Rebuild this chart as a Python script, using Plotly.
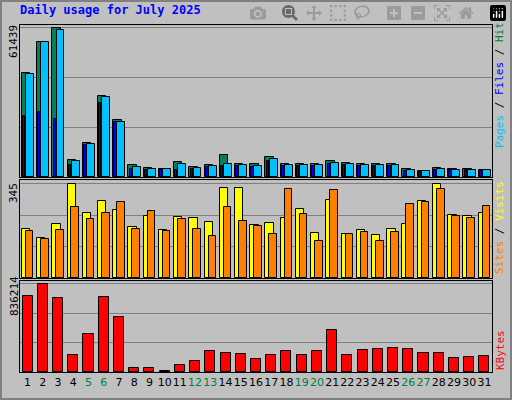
import plotly.graph_objects as go

days = list(range(1, 32))
weekend = [5, 6, 12, 13, 19, 20, 26, 27]
hits = [43000, 55700, 61439, 7000, 13900, 33600, 23300, 4900, 3700, 3300, 6100, 4100, 4900, 9000, 5300,
        5300, 8200, 5300, 5300, 5300, 6500, 5700, 5300, 5300, 5300, 3300, 2500, 3700, 3300, 3300, 2900]
pages = [42500, 55500, 60500, 6500, 13500, 33000, 22800, 4300, 3500, 3100, 5300, 3800, 4500, 5300, 4900,
         4700, 7600, 5000, 5000, 5000, 5800, 5300, 5000, 5000, 5000, 2900, 2300, 3400, 3000, 3000, 2700]
files = [25000, 26600, 24000, 4900, 13000, 30700, 22500, 3300, 3000, 2800, 3000, 3300, 4000, 4500, 4500,
         4300, 6800, 4500, 4500, 4500, 5200, 4800, 4500, 4500, 4500, 2500, 2000, 3000, 2700, 2700, 2400]
visits = [178, 145, 197, 345, 237, 282, 249, 185, 226, 174, 222, 219, 204, 330, 330, 193, 200, 219, 252, 163,
          286, 160, 174, 156, 178, 197, 282, 345, 230, 226, 237]
sites = [171, 141, 174, 260, 215, 237, 278, 178, 245, 171, 215, 178, 152, 260, 208, 189, 160, 326, 234, 134,
         323, 160, 167, 134, 167, 271, 278, 326, 226, 219, 263]
kbytes = [721000, 836214, 701000, 163000, 355000, 711000, 519000, 38000, 38000, 10000, 67000, 106000, 202000,
          183000, 173000, 125000, 163000, 202000, 163000, 202000, 394000, 163000, 211000, 221000, 230000,
          221000, 183000, 183000, 134000, 144000, 154000]
max_hits, max_sites, max_kb = 61439, 345, 836214
title = "Daily usage for July 2025"

line = dict(color="black", width=1)
fig = go.Figure()
def bar(y, color, off, w, ax):
    fig.add_trace(go.Bar(x=days, y=y, offset=off, width=w, marker=dict(color=color, line=line),
                         xaxis="x" + ax, yaxis="y" + ax, showlegend=False, hoverinfo="skip"))
bar(hits, "#00805C", -0.38, 0.55, "")
bar(files, "#0000FF", -0.3, 0.14, "")
bar(pages, "#00C0FF", -0.1, 0.52, "")
bar(visits, "#FFFF00", -0.38, 0.55, "2")
bar(sites, "#FF8000", -0.12, 0.5, "2")
bar(kbytes, "#FF0000", -0.33, 0.66, "3")

dom = [20 / 512, 492 / 512]
ticktext = [f"<span style='color:#008040'>{d}</span>" if d in weekend else str(d) for d in days]
xcommon = dict(range=[0.5, 31.5], domain=dom, showgrid=False, zeroline=False, showline=True,
               linecolor="black", mirror=True, ticks="")
ycommon = dict(showgrid=True, gridcolor="#808080", gridwidth=1, zeroline=False, showline=True,
               linecolor="black", mirror=True, showticklabels=False, ticks="")
fig.update_layout(
    width=512, height=400, margin=dict(l=0, r=0, t=0, b=0),
    paper_bgcolor="#C0C0C0", plot_bgcolor="#C0C0C0", barmode="overlay",
    font=dict(family="DejaVu Sans Mono", size=11, color="black"),
    xaxis=dict(**xcommon, anchor="y", showticklabels=False),
    xaxis2=dict(**xcommon, anchor="y2", showticklabels=False),
    xaxis3=dict(**xcommon, anchor="y3", tickvals=days, ticktext=ticktext, tickangle=0,
                tickfont=dict(size=11, family="DejaVu Sans")),
    yaxis=dict(**ycommon, domain=[0.5575, 0.9375], range=[0, max_hits * 1.02], dtick=20480, anchor="x"),
    yaxis2=dict(**ycommon, domain=[0.305, 0.55], range=[0, max_sites * 1.04], dtick=115, anchor="x2"),
    yaxis3=dict(**ycommon, domain=[0.07, 0.2975], range=[0, max_kb * 1.03], dtick=278738, anchor="x3"),
    bargap=0,
)
ann = [
    dict(x=18, y=10, text=f"<b>{title}</b>", font=dict(color="#0000FF", size=12), xanchor="left", yanchor="middle", angle=0),
    dict(x=14, y=42, text=str(max_hits), xanchor="center", yanchor="middle", angle=-90),
    dict(x=14, y=193, text=str(max_sites), xanchor="center", yanchor="middle", angle=-90),
    dict(x=14, y=296, text=str(max_kb), xanchor="center", yanchor="middle", angle=-90),
    dict(x=500, y=82, text="<span style='color:#00C0FF'>Pages</span> / <span style='color:#0000FF'>Files</span> / <span style='color:#008040'>Hits</span>", xanchor="center", yanchor="middle", angle=-90),
    dict(x=500, y=228, text="<span style='color:#FF8000'>Sites</span> / <span style='color:#FFFF00'>Visits</span>", xanchor="center", yanchor="middle", angle=-90),
    dict(x=500, y=350, text="<span style='color:#FF0000'>KBytes</span>", xanchor="center", yanchor="middle", angle=-90),
]
fig.update_layout(annotations=[dict(text=a["text"], font=a.get("font"), xanchor=a["xanchor"], yanchor=a["yanchor"],
                                    textangle=a["angle"], xref="paper", yref="paper", showarrow=False,
                                    x=a["x"] / 512, y=1 - a["y"] / 400) for a in ann])
fig.update_layout(shapes=[
    dict(type="rect", xref="paper", yref="paper", x0=0, y0=0, x1=1, y1=1, line=dict(color="#808080", width=4)),
])
fig.write_html("out.html", post_script="document.body.style.margin='0';")
